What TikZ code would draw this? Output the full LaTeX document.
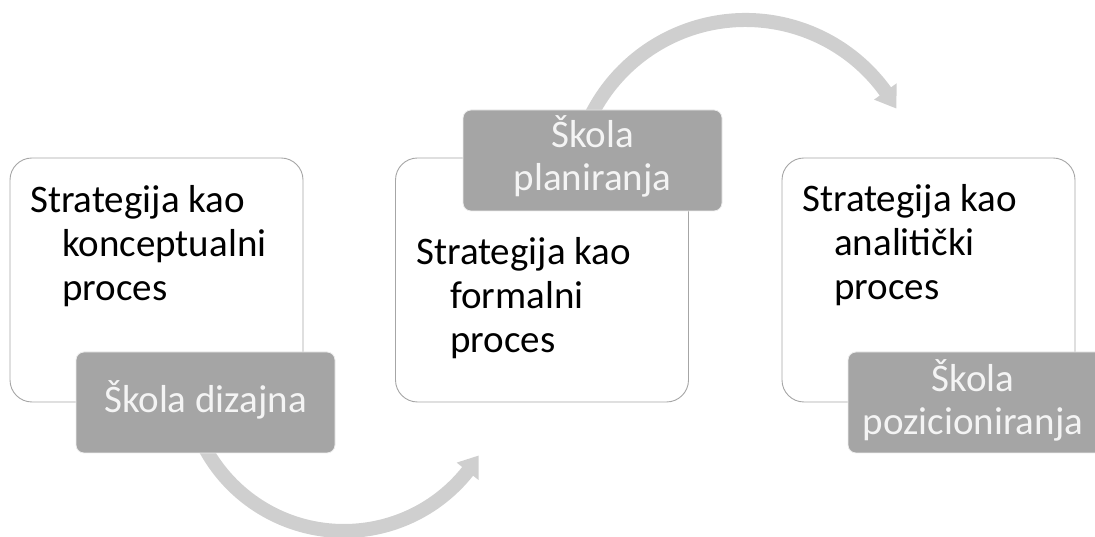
\documentclass[tikz,border=0pt]{standalone}
\usepackage{fontspec}
\setmainfont{Carlito}
\definecolor{boxgray}{HTML}{A6A6A6}
\definecolor{taggray}{HTML}{A5A5A5}
\definecolor{tagtxt}{HTML}{F4F4F4}
\definecolor{arrowgray}{HTML}{CFCFCF}
\begin{document}
\begin{tikzpicture}[x=1pt,y=1pt,
  procbox/.style={draw=boxgray, line width=0.9pt, fill=white, rounded corners=22pt,
    minimum width=293pt, minimum height=244pt, inner sep=0pt},
  tagbox/.style={fill=taggray, draw=white!80!taggray, line width=0.8pt, rounded corners=8pt,
    minimum width=259pt, minimum height=101pt, inner sep=0pt},
  maintext/.style={anchor=base west, inner sep=0pt, font=\fontsize{39}{44}\selectfont, text=black},
  tagtext/.style={anchor=base, inner sep=0pt, font=\fontsize{39}{43}\selectfont, text=tagtxt},
  flow/.style={fill=arrowgray, draw=none}]
\useasboundingbox (0,0) rectangle (1095,537);
% curved arrows
\begin{scope}[shift={(344,164)}]
  \fill[flow] (205:165) arc[start angle=205, end angle=321.5, radius=165]
    -- (321.5:172) -- (328.5:158) -- (321.5:144) -- (321.5:151)
    arc[start angle=321.5, end angle=205, radius=151] -- cycle;
\end{scope}
\begin{scope}[shift={(745.5,344.3)}]
  \fill[flow] (155:179.7) arc[start angle=155, end angle=35.9, radius=179.7]
    -- (35.9:186.7) -- (29.2:172.7) -- (35.9:158.7) -- (35.9:165.7)
    arc[start angle=35.9, end angle=155, radius=165.7] -- cycle;
\end{scope}
% process boxes
\node[procbox] (b1) at (156.5,257) {};
\node[procbox] (b2) at (542,257) {};
\node[procbox] (b3) at (928.5,257) {};
\node[maintext] (t1) at (30,324) {\begin{tabular}[t]{@{}l@{}}Strategija kao\\\hspace*{32pt}konceptualni\\\hspace*{32pt}proces\end{tabular}};
\node[maintext] (t2) at (416,272) {\begin{tabular}[t]{@{}l@{}}Strategija kao\\\hspace*{34pt}formalni\\\hspace*{34pt}proces\end{tabular}};
\node[maintext] (t3) at (802,325) {\begin{tabular}[t]{@{}l@{}}Strategija kao\\\hspace*{32pt}analitički\\\hspace*{32pt}proces\end{tabular}};
% school labels
\node[tagbox] (l1) at (205.5,134.5) {};
\node[tagbox] (l2) at (592.5,376.5) {};
\node[tagbox] (l3) at (977.5,134.5) {};
\node[tagtext] (lt1) at (205.5,124) {Škola dizajna};
\node[tagtext] (lt2) at (592.5,389) {\begin{tabular}[t]{@{}c@{}}Škola\\planiranja\end{tabular}};
\node[tagtext] (lt3) at (973,145) {\begin{tabular}[t]{@{}c@{}}Škola\\pozicioniranja\end{tabular}};
\end{tikzpicture}
\end{document}
